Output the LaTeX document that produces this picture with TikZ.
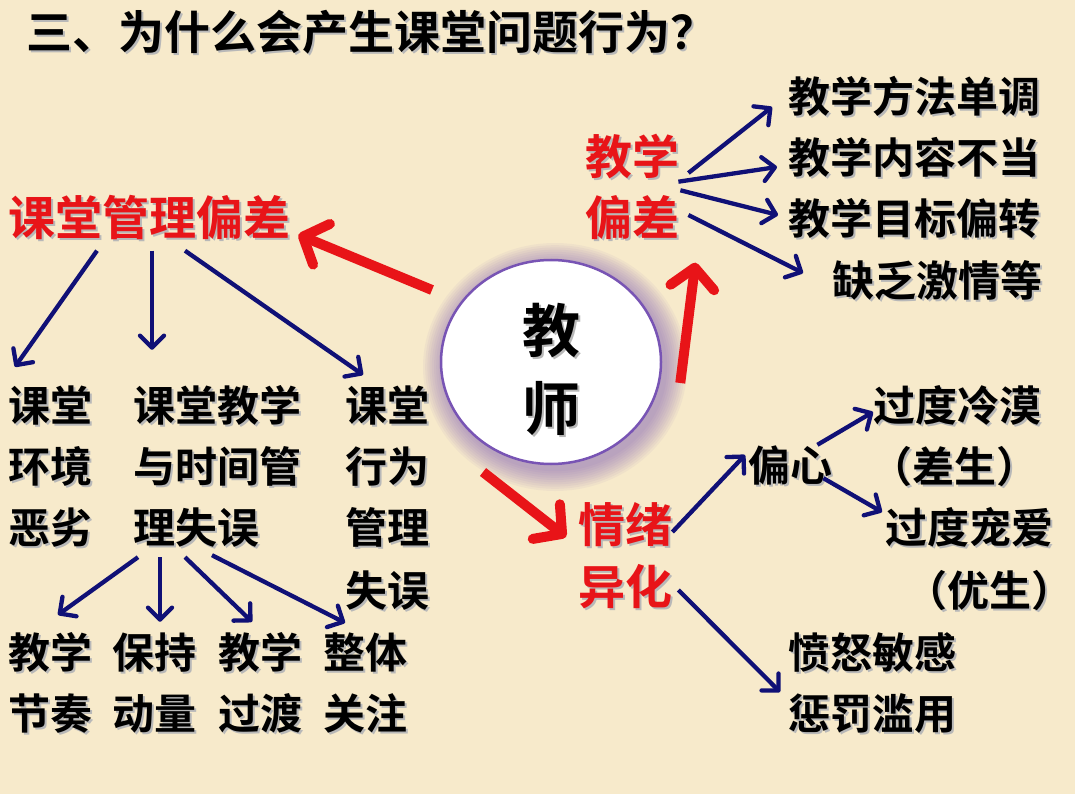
\documentclass[tikz,border=0pt]{standalone}
\usepackage{fontspec}
\newfontfamily\cjk{Noto Sans CJK SC Bold}
\usetikzlibrary{arrows.meta,calc,shapes.geometric}
\definecolor{bg}{RGB}{247,234,203}
\definecolor{rd}{RGB}{232,20,24}
\definecolor{nv}{RGB}{16,16,118}
\definecolor{pu}{RGB}{120,84,180}
\newcommand\shd[1]{\rlap{\hspace{2pt}\raisebox{-2pt}{\textcolor{black!28}{#1}}}#1}
\tikzset{
  bt/.style={font=\cjk\fontsize{42}{50}\selectfont, anchor=west, inner sep=0pt, text height=36pt, text depth=4pt, text=black},
  rt/.style={font=\cjk\fontsize{47}{56}\selectfont, anchor=west, inner sep=0pt, text height=40pt, text depth=5pt, text=rd},
  ct/.style={font=\cjk\fontsize{58}{60}\selectfont, anchor=center, inner sep=0pt, text height=50pt, text depth=6pt},
  barrow/.style={draw=nv, line width=4.3pt, -{Straight Barb[length=12pt,width=24pt,round]}},
  rarrow/.style={draw=rd, line width=10pt, -{Straight Barb[length=20pt,width=44pt,round]}},
}
\begin{document}
\begin{tikzpicture}[x=1pt,y=-1pt]
\fill[bg] (0,0) rectangle (1075,794);
\useasboundingbox (0,0) rectangle (1075,794);

% title
\node[font=\cjk\fontsize{46}{50}\selectfont, anchor=west, inner sep=0pt, text height=39pt, text depth=5pt] (title) at (26,33) {\shd{三、为什么会产生课堂问题行为？}};

% central circle with glow
\foreach \i in {1,...,10} \fill[pu, opacity=0.06] (555,367) ellipse ({110+2.2*\i} and {102+2.2*\i});
\node[ellipse, draw=pu, line width=2.5pt, fill=white, minimum width=220pt, minimum height=204pt, inner sep=0pt] (T) at (551,362) {};
\node[ct] (Ta) at (551,330) {\shd{教}};
\node[ct] (Tb) at (551,408) {\shd{师}};

% red headings
\node[rt] (kg) at (8,218) {\shd{课堂管理偏差}};
\node[rt] (jxa) at (585,157) {\shd{教学}};
\node[rt] (jxb) at (585,218) {\shd{偏差}};
\node[rt] (qxa) at (578,525) {\shd{情绪}};
\node[rt] (qxb) at (578,587) {\shd{异化}};

% right top list
\node[bt] (r1) at (788,97) {\shd{教学方法单调}};
\node[bt] (r2) at (788,158) {\shd{教学内容不当}};
\node[bt] (r3) at (788,218) {\shd{教学目标偏转}};
\node[bt] (r4) at (832,280) {\shd{缺乏激情等}};

% left columns
\node[bt] (a1) at (8,405) {\shd{课堂}};
\node[bt] (a2) at (8,466) {\shd{环境}};
\node[bt] (a3) at (8,527) {\shd{恶劣}};
\node[bt] (b1) at (133,405) {\shd{课堂教学}};
\node[bt] (b2) at (133,466) {\shd{与时间管}};
\node[bt] (b3) at (133,527) {\shd{理失误}};
\node[bt] (c1) at (345,405) {\shd{课堂}};
\node[bt] (c2) at (345,466) {\shd{行为}};
\node[bt] (c3) at (345,527) {\shd{管理}};
\node[bt] (c4) at (345,590) {\shd{失误}};

% bottom row
\node[bt] (d1) at (8,652) {\shd{教学}};
\node[bt] (d2) at (8,713) {\shd{节奏}};
\node[bt] (e1) at (112,652) {\shd{保持}};
\node[bt] (e2) at (112,713) {\shd{动量}};
\node[bt] (f1) at (218,652) {\shd{教学}};
\node[bt] (f2) at (218,713) {\shd{过渡}};
\node[bt] (g1) at (323,652) {\shd{整体}};
\node[bt] (g2) at (323,713) {\shd{关注}};

% right lower
\node[bt] (p) at (748,465) {\shd{偏心}};
\node[bt] (h1) at (873,405) {\shd{过度冷漠}};
\node[bt] (h2) at (870,466) {\shd{（差生）}};
\node[bt] (h3) at (885,527) {\shd{过度宠爱}};
\node[bt] (h4) at (905,590) {\shd{（优生）}};
\node[bt] (m1) at (788,652) {\shd{愤怒敏感}};
\node[bt] (m2) at (788,713) {\shd{惩罚滥用}};

% red arrows
\draw[rarrow] ($(T.center)+(-119,-72)$) -- ($(kg.south east)+(8,-6)$);
\draw[rarrow] ($(T.east)+(18,21)$) -- ($(jxb.south east)+(16,22)$);
\draw[rarrow] ($(T.center)+(-68,110)$) -- ($(qxa.west)+(-12,12)$);

% blue arrows: teaching deviation
\draw[barrow] ($(jxa.east)+(9,16)$) -- ($(r1.west)+(-16,10)$);
\draw[barrow] ($(jxa.south east)+(-1,2)$) -- ($(r2.west)+(-11,9)$);
\draw[barrow] ($(jxb.north east)+(1,-5)$) -- ($(r3.west)+(-10,-3)$);
\draw[barrow] ($(jxb.east)+(9,-3)$) -- ($(r4.west)+(-29,-7)$);

% blue arrows: classroom management
\draw[barrow] ($(kg.south west)+(89,10)$) -- ($(a1.north west)+(7,-18)$);
\draw[barrow] ($(kg.south west)+(144,10)$) -- ($(b1.north west)+(19,-35)$);
\draw[barrow] ($(kg.south west)+(177,10)$) -- ($(c1.north west)+(18,-10)$);

% blue arrows: time management
\draw[barrow] ($(b3.south west)+(5,10)$) -- ($(d1.north west)+(50,-17)$);
\draw[barrow] ($(b3.south west)+(27,10)$) -- ($(e1.north west)+(48,-10)$);
\draw[barrow] ($(b3.south west)+(52,10)$) -- ($(f1.north west)+(34,-10)$);
\draw[barrow] ($(b3.south west)+(79,8)$) -- ($(g1.north west)+(22,-9)$);

% blue arrows: emotion
\draw[barrow] ($(qxa.east)+(0,7)$) -- ($(p.west)+(-3,-10)$);
\draw[barrow] ($(p.north east)+(-15,0)$) -- ($(h1.west)+(0,7)$);
\draw[barrow] ($(p.south east)+(-9,-7)$) -- ($(h3.west)+(-3,-15)$);
\draw[barrow] ($(qxb.east)+(6,3)$) -- ($(m2.west)+(-8,-21)$);
\end{tikzpicture}
\end{document}
